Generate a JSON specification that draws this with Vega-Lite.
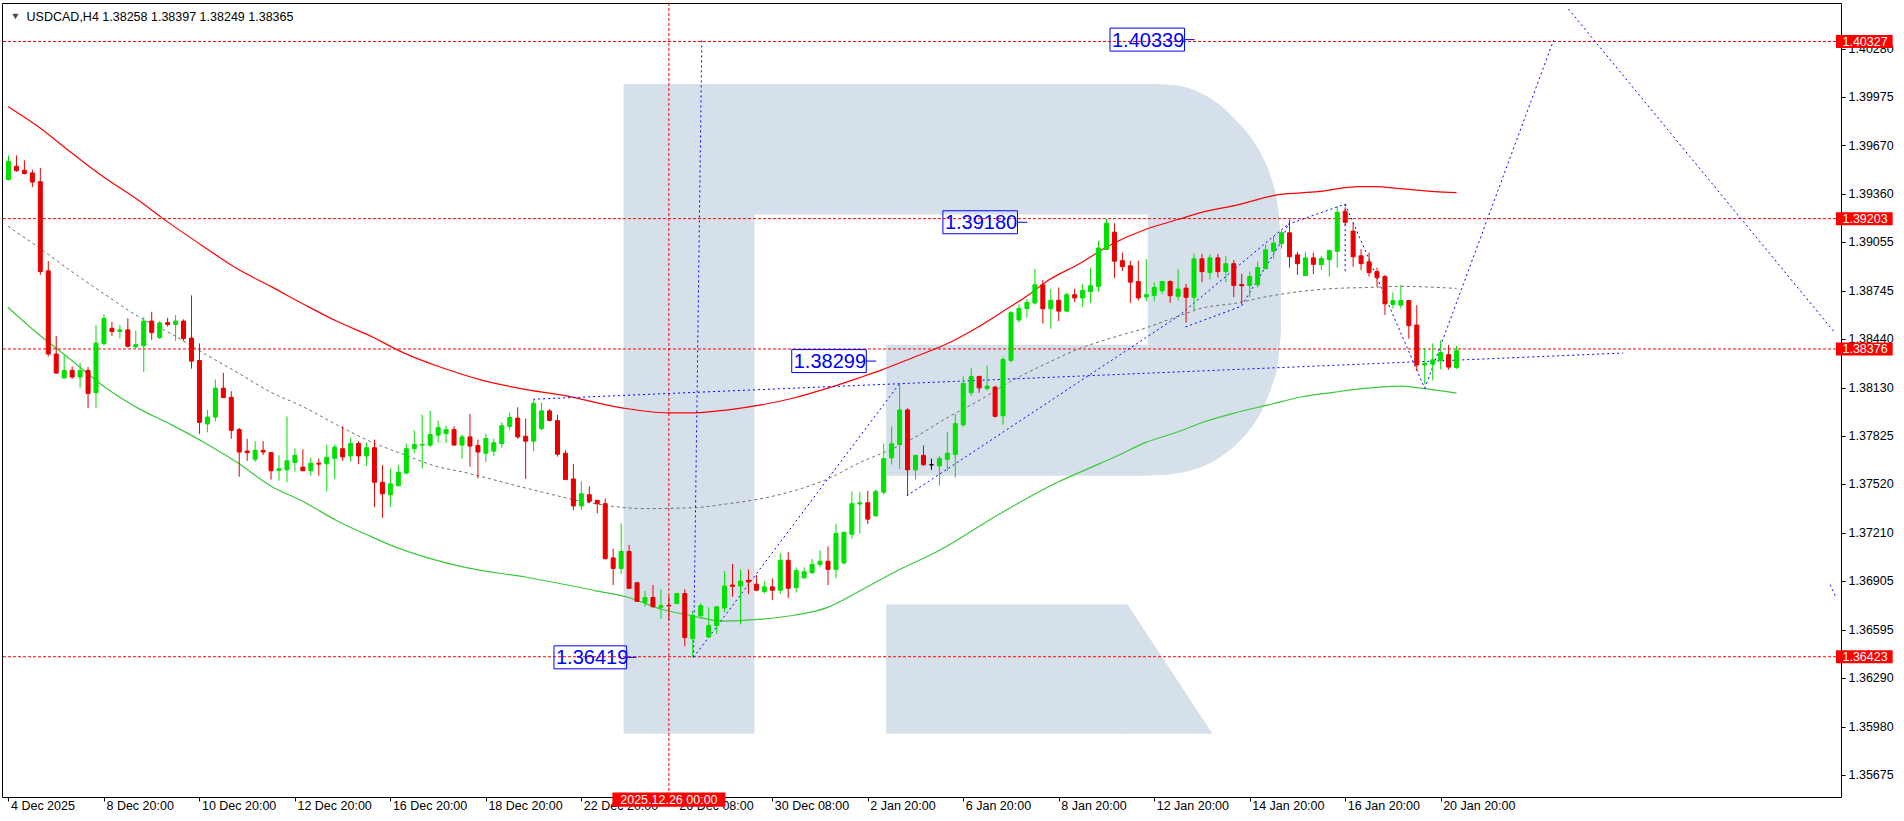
{
"$schema":"https://vega.github.io/schema/vega-lite/v6.json",
"width":1839,"height":794,
"autosize":{"type":"none"},
"padding":{"left":2,"top":3,"right":63,"bottom":24},
"background":"#FFFFFF",
"config":{"view":{"stroke":"#000000","strokeWidth":1},"font":"Liberation Sans"},
"datasets":{
"candles":[
{"i":0,"o":1.39451,"h":1.39604,"l":1.39445,"c":1.39566},
{"i":1,"o":1.39535,"h":1.39604,"l":1.39500,"c":1.39508},
{"i":2,"o":1.39510,"h":1.39573,"l":1.39483,"c":1.39489},
{"i":3,"o":1.39493,"h":1.39514,"l":1.39403,"c":1.39435},
{"i":4,"o":1.39437,"h":1.39525,"l":1.38846,"c":1.38867},
{"i":5,"o":1.38871,"h":1.38933,"l":1.38328,"c":1.38344},
{"i":6,"o":1.38344,"h":1.38459,"l":1.38219,"c":1.38223},
{"i":7,"o":1.38192,"h":1.38344,"l":1.38190,"c":1.38240},
{"i":8,"o":1.38240,"h":1.38265,"l":1.38186,"c":1.38198},
{"i":9,"o":1.38198,"h":1.38288,"l":1.38131,"c":1.38240},
{"i":10,"o":1.38240,"h":1.38261,"l":1.38000,"c":1.38094},
{"i":11,"o":1.38098,"h":1.38528,"l":1.38000,"c":1.38413},
{"i":12,"o":1.38411,"h":1.38595,"l":1.38397,"c":1.38570},
{"i":13,"o":1.38507,"h":1.38547,"l":1.38459,"c":1.38487},
{"i":14,"o":1.38487,"h":1.38528,"l":1.38443,"c":1.38497},
{"i":15,"o":1.38497,"h":1.38570,"l":1.38386,"c":1.38393},
{"i":16,"o":1.38390,"h":1.38491,"l":1.38376,"c":1.38403},
{"i":17,"o":1.38397,"h":1.38578,"l":1.38230,"c":1.38553},
{"i":18,"o":1.38553,"h":1.38612,"l":1.38434,"c":1.38480},
{"i":19,"o":1.38449,"h":1.38553,"l":1.38439,"c":1.38541},
{"i":20,"o":1.38543,"h":1.38574,"l":1.38518,"c":1.38532},
{"i":21,"o":1.38532,"h":1.38591,"l":1.38428,"c":1.38553},
{"i":22,"o":1.38553,"h":1.38564,"l":1.38428,"c":1.38443},
{"i":23,"o":1.38445,"h":1.38716,"l":1.38251,"c":1.38299},
{"i":24,"o":1.38303,"h":1.38411,"l":1.37837,"c":1.37910},
{"i":25,"o":1.37900,"h":1.37989,"l":1.37847,"c":1.37944},
{"i":26,"o":1.37944,"h":1.38182,"l":1.37916,"c":1.38127},
{"i":27,"o":1.38127,"h":1.38225,"l":1.38067,"c":1.38067},
{"i":28,"o":1.38069,"h":1.38108,"l":1.37806,"c":1.37860},
{"i":29,"o":1.37864,"h":1.37875,"l":1.37565,"c":1.37722},
{"i":30,"o":1.37728,"h":1.37806,"l":1.37666,"c":1.37718},
{"i":31,"o":1.37676,"h":1.37791,"l":1.37659,"c":1.37733},
{"i":32,"o":1.37733,"h":1.37791,"l":1.37703,"c":1.37722},
{"i":33,"o":1.37718,"h":1.37722,"l":1.37547,"c":1.37603},
{"i":34,"o":1.37605,"h":1.37701,"l":1.37540,"c":1.37616},
{"i":35,"o":1.37609,"h":1.37948,"l":1.37530,"c":1.37666},
{"i":36,"o":1.37655,"h":1.37745,"l":1.37597,"c":1.37701},
{"i":37,"o":1.37626,"h":1.37739,"l":1.37603,"c":1.37603},
{"i":38,"o":1.37603,"h":1.37687,"l":1.37572,"c":1.37651},
{"i":39,"o":1.37651,"h":1.37680,"l":1.37572,"c":1.37645},
{"i":40,"o":1.37647,"h":1.37770,"l":1.37471,"c":1.37689},
{"i":41,"o":1.37682,"h":1.37770,"l":1.37551,"c":1.37753},
{"i":42,"o":1.37743,"h":1.37885,"l":1.37666,"c":1.37691},
{"i":43,"o":1.37697,"h":1.37812,"l":1.37662,"c":1.37776},
{"i":44,"o":1.37776,"h":1.37791,"l":1.37645,"c":1.37697},
{"i":45,"o":1.37697,"h":1.37781,"l":1.37634,"c":1.37749},
{"i":46,"o":1.37749,"h":1.37801,"l":1.37373,"c":1.37530},
{"i":47,"o":1.37530,"h":1.37639,"l":1.37304,"c":1.37457},
{"i":48,"o":1.37451,"h":1.37618,"l":1.37373,"c":1.37520},
{"i":49,"o":1.37509,"h":1.37639,"l":1.37503,"c":1.37593},
{"i":50,"o":1.37588,"h":1.37776,"l":1.37582,"c":1.37743},
{"i":51,"o":1.37743,"h":1.37858,"l":1.37714,"c":1.37770},
{"i":52,"o":1.37766,"h":1.37958,"l":1.37618,"c":1.37770},
{"i":53,"o":1.37766,"h":1.37983,"l":1.37753,"c":1.37833},
{"i":54,"o":1.37829,"h":1.37920,"l":1.37781,"c":1.37877},
{"i":55,"o":1.37839,"h":1.37889,"l":1.37781,"c":1.37864},
{"i":56,"o":1.37864,"h":1.37885,"l":1.37766,"c":1.37766},
{"i":57,"o":1.37766,"h":1.37833,"l":1.37680,"c":1.37818},
{"i":58,"o":1.37818,"h":1.37964,"l":1.37630,"c":1.37760},
{"i":59,"o":1.37764,"h":1.37801,"l":1.37555,"c":1.37722},
{"i":60,"o":1.37714,"h":1.37839,"l":1.37659,"c":1.37808},
{"i":61,"o":1.37728,"h":1.37806,"l":1.37697,"c":1.37781},
{"i":62,"o":1.37776,"h":1.37910,"l":1.37749,"c":1.37889},
{"i":63,"o":1.37885,"h":1.37973,"l":1.37860,"c":1.37941},
{"i":64,"o":1.37937,"h":1.38006,"l":1.37806,"c":1.37818},
{"i":65,"o":1.37822,"h":1.37935,"l":1.37551,"c":1.37791},
{"i":66,"o":1.37791,"h":1.38056,"l":1.37728,"c":1.38031},
{"i":67,"o":1.37870,"h":1.38035,"l":1.37860,"c":1.37983},
{"i":68,"o":1.37983,"h":1.37994,"l":1.37916,"c":1.37923},
{"i":69,"o":1.37921,"h":1.37958,"l":1.37693,"c":1.37708},
{"i":70,"o":1.37714,"h":1.37733,"l":1.37547,"c":1.37547},
{"i":71,"o":1.37551,"h":1.37645,"l":1.37352,"c":1.37380},
{"i":72,"o":1.37380,"h":1.37536,"l":1.37352,"c":1.37457},
{"i":73,"o":1.37451,"h":1.37505,"l":1.37400,"c":1.37409},
{"i":74,"o":1.37415,"h":1.37419,"l":1.37332,"c":1.37394},
{"i":75,"o":1.37394,"h":1.37426,"l":1.37039,"c":1.37045},
{"i":76,"o":1.37050,"h":1.37108,"l":1.36878,"c":1.36983},
{"i":77,"o":1.36983,"h":1.37269,"l":1.36949,"c":1.37091},
{"i":78,"o":1.37091,"h":1.37133,"l":1.36857,"c":1.36857},
{"i":79,"o":1.36893,"h":1.36893,"l":1.36774,"c":1.36774},
{"i":80,"o":1.36768,"h":1.36841,"l":1.36740,"c":1.36799},
{"i":81,"o":1.36799,"h":1.36878,"l":1.36736,"c":1.36740},
{"i":82,"o":1.36736,"h":1.36851,"l":1.36663,"c":1.36747},
{"i":83,"o":1.36749,"h":1.36809,"l":1.36653,"c":1.36745},
{"i":84,"o":1.36761,"h":1.36824,"l":1.36757,"c":1.36824},
{"i":85,"o":1.36824,"h":1.36851,"l":1.36490,"c":1.36544},
{"i":86,"o":1.36538,"h":1.36715,"l":1.36419,"c":1.36684},
{"i":87,"o":1.36684,"h":1.36761,"l":1.36663,"c":1.36747},
{"i":88,"o":1.36548,"h":1.36736,"l":1.36544,"c":1.36621},
{"i":89,"o":1.36621,"h":1.36740,"l":1.36569,"c":1.36740},
{"i":90,"o":1.36732,"h":1.36966,"l":1.36705,"c":1.36872},
{"i":91,"o":1.36878,"h":1.37012,"l":1.36803,"c":1.36870},
{"i":92,"o":1.36872,"h":1.36977,"l":1.36628,"c":1.36903},
{"i":93,"o":1.36908,"h":1.36977,"l":1.36820,"c":1.36897},
{"i":94,"o":1.36883,"h":1.36941,"l":1.36841,"c":1.36845},
{"i":95,"o":1.36837,"h":1.36903,"l":1.36824,"c":1.36866},
{"i":96,"o":1.36866,"h":1.36920,"l":1.36782,"c":1.36845},
{"i":97,"o":1.36845,"h":1.37081,"l":1.36820,"c":1.37035},
{"i":98,"o":1.37035,"h":1.37087,"l":1.36795,"c":1.36857},
{"i":99,"o":1.36862,"h":1.36991,"l":1.36830,"c":1.36970},
{"i":100,"o":1.36924,"h":1.36991,"l":1.36918,"c":1.36962},
{"i":101,"o":1.36956,"h":1.37043,"l":1.36949,"c":1.37008},
{"i":102,"o":1.37008,"h":1.37098,"l":1.36991,"c":1.37029},
{"i":103,"o":1.37029,"h":1.37123,"l":1.36878,"c":1.36977},
{"i":104,"o":1.36977,"h":1.37267,"l":1.36920,"c":1.37206},
{"i":105,"o":1.37018,"h":1.37217,"l":1.37008,"c":1.37212},
{"i":106,"o":1.37200,"h":1.37472,"l":1.37171,"c":1.37394},
{"i":107,"o":1.37392,"h":1.37467,"l":1.37206,"c":1.37400},
{"i":108,"o":1.37400,"h":1.37476,"l":1.37265,"c":1.37296},
{"i":109,"o":1.37317,"h":1.37484,"l":1.37311,"c":1.37472},
{"i":110,"o":1.37467,"h":1.37776,"l":1.37451,"c":1.37680},
{"i":111,"o":1.37685,"h":1.37885,"l":1.37643,"c":1.37774},
{"i":112,"o":1.37770,"h":1.38157,"l":1.37614,"c":1.37989},
{"i":113,"o":1.37989,"h":1.38000,"l":1.37446,"c":1.37609},
{"i":114,"o":1.37609,"h":1.37701,"l":1.37547,"c":1.37701},
{"i":115,"o":1.37701,"h":1.37764,"l":1.37634,"c":1.37641},
{"i":116,"o":1.37641,"h":1.37680,"l":1.37609,"c":1.37641},
{"i":117,"o":1.37634,"h":1.37697,"l":1.37509,"c":1.37680},
{"i":118,"o":1.37676,"h":1.37850,"l":1.37600,"c":1.37714},
{"i":119,"o":1.37707,"h":1.37962,"l":1.37560,"c":1.37902},
{"i":120,"o":1.37895,"h":1.38202,"l":1.37881,"c":1.38157},
{"i":121,"o":1.38098,"h":1.38257,"l":1.38077,"c":1.38202},
{"i":122,"o":1.38202,"h":1.38202,"l":1.38098,"c":1.38129},
{"i":123,"o":1.38125,"h":1.38271,"l":1.38111,"c":1.38140},
{"i":124,"o":1.38134,"h":1.38142,"l":1.37941,"c":1.37948},
{"i":125,"o":1.37952,"h":1.38324,"l":1.37895,"c":1.38309},
{"i":126,"o":1.38303,"h":1.38616,"l":1.38292,"c":1.38606},
{"i":127,"o":1.38560,"h":1.38658,"l":1.38543,"c":1.38633},
{"i":128,"o":1.38633,"h":1.38695,"l":1.38574,"c":1.38672},
{"i":129,"o":1.38668,"h":1.38883,"l":1.38658,"c":1.38783},
{"i":130,"o":1.38783,"h":1.38814,"l":1.38537,"c":1.38631},
{"i":131,"o":1.38631,"h":1.38756,"l":1.38505,"c":1.38685},
{"i":132,"o":1.38685,"h":1.38766,"l":1.38553,"c":1.38616},
{"i":133,"o":1.38616,"h":1.38731,"l":1.38612,"c":1.38720},
{"i":134,"o":1.38720,"h":1.38758,"l":1.38674,"c":1.38700},
{"i":135,"o":1.38700,"h":1.38789,"l":1.38643,"c":1.38748},
{"i":136,"o":1.38741,"h":1.38892,"l":1.38668,"c":1.38777},
{"i":137,"o":1.38773,"h":1.39061,"l":1.38737,"c":1.39017},
{"i":138,"o":1.39007,"h":1.39201,"l":1.39007,"c":1.39174},
{"i":139,"o":1.39117,"h":1.39174,"l":1.38825,"c":1.38933},
{"i":140,"o":1.38936,"h":1.38988,"l":1.38871,"c":1.38898},
{"i":141,"o":1.38904,"h":1.38936,"l":1.38668,"c":1.38800},
{"i":142,"o":1.38804,"h":1.38936,"l":1.38683,"c":1.38700},
{"i":143,"o":1.38706,"h":1.38946,"l":1.38679,"c":1.38720},
{"i":144,"o":1.38716,"h":1.38798,"l":1.38679,"c":1.38766},
{"i":145,"o":1.38745,"h":1.38804,"l":1.38725,"c":1.38804},
{"i":146,"o":1.38804,"h":1.38812,"l":1.38668,"c":1.38714},
{"i":147,"o":1.38710,"h":1.38881,"l":1.38683,"c":1.38756},
{"i":148,"o":1.38762,"h":1.38789,"l":1.38543,"c":1.38704},
{"i":149,"o":1.38704,"h":1.38982,"l":1.38622,"c":1.38948},
{"i":150,"o":1.38948,"h":1.38979,"l":1.38800,"c":1.38867},
{"i":151,"o":1.38860,"h":1.38979,"l":1.38817,"c":1.38954},
{"i":152,"o":1.38954,"h":1.38979,"l":1.38829,"c":1.38867},
{"i":153,"o":1.38867,"h":1.38967,"l":1.38800,"c":1.38917},
{"i":154,"o":1.38917,"h":1.38940,"l":1.38704,"c":1.38779},
{"i":155,"o":1.38785,"h":1.38852,"l":1.38662,"c":1.38777},
{"i":156,"o":1.38779,"h":1.38867,"l":1.38704,"c":1.38835},
{"i":157,"o":1.38783,"h":1.38929,"l":1.38766,"c":1.38892},
{"i":158,"o":1.38885,"h":1.39038,"l":1.38883,"c":1.39005},
{"i":159,"o":1.38996,"h":1.39092,"l":1.38950,"c":1.39048},
{"i":160,"o":1.39044,"h":1.39138,"l":1.39013,"c":1.39113},
{"i":161,"o":1.39113,"h":1.39197,"l":1.38892,"c":1.38961},
{"i":162,"o":1.38973,"h":1.38992,"l":1.38846,"c":1.38917},
{"i":163,"o":1.38842,"h":1.38992,"l":1.38842,"c":1.38954},
{"i":164,"o":1.38954,"h":1.38988,"l":1.38850,"c":1.38913},
{"i":165,"o":1.38911,"h":1.38967,"l":1.38877,"c":1.38950},
{"i":166,"o":1.38942,"h":1.39007,"l":1.38835,"c":1.39000},
{"i":167,"o":1.38996,"h":1.39284,"l":1.38892,"c":1.39243},
{"i":168,"o":1.39249,"h":1.39274,"l":1.39159,"c":1.39180},
{"i":169,"o":1.39124,"h":1.39180,"l":1.38898,"c":1.38961},
{"i":170,"o":1.38967,"h":1.39009,"l":1.38877,"c":1.38917},
{"i":171,"o":1.38929,"h":1.38988,"l":1.38835,"c":1.38860},
{"i":172,"o":1.38867,"h":1.38892,"l":1.38771,"c":1.38829},
{"i":173,"o":1.38835,"h":1.38846,"l":1.38591,"c":1.38662},
{"i":174,"o":1.38658,"h":1.38735,"l":1.38633,"c":1.38683},
{"i":175,"o":1.38654,"h":1.38783,"l":1.38633,"c":1.38683},
{"i":176,"o":1.38683,"h":1.38683,"l":1.38441,"c":1.38524},
{"i":177,"o":1.38528,"h":1.38654,"l":1.38236,"c":1.38274},
{"i":178,"o":1.38274,"h":1.38382,"l":1.38152,"c":1.38284},
{"i":179,"o":1.38280,"h":1.38411,"l":1.38177,"c":1.38307},
{"i":180,"o":1.38303,"h":1.38432,"l":1.38246,"c":1.38353},
{"i":181,"o":1.38340,"h":1.38401,"l":1.38244,"c":1.38261},
{"i":182,"o":1.38258,"h":1.38397,"l":1.38249,"c":1.38365}
],
"upper":[
{"i":-0.08,"p":1.39915},{"i":3.71,"p":1.39788},{"i":7.96,"p":1.39619},{"i":12.09,"p":1.39462},{"i":16.21,"p":1.39324},{"i":19.21,"p":1.39211},{"i":24.59,"p":1.39023},{"i":28.71,"p":1.38886},{"i":32.96,"p":1.38773},{"i":37.09,"p":1.38660},{"i":41.21,"p":1.38553},{"i":45.46,"p":1.38459},{"i":49.59,"p":1.38353},{"i":53.71,"p":1.38271},{"i":59.59,"p":1.38177},{"i":65.46,"p":1.38115},{"i":69.59,"p":1.38083},{"i":77.09,"p":1.38002},{"i":82.96,"p":1.37971},{"i":86.21,"p":1.37971},{"i":90.46,"p":1.37990},{"i":94.59,"p":1.38021},{"i":98.71,"p":1.38065},{"i":102.96,"p":1.38127},{"i":107.09,"p":1.38196},{"i":109.59,"p":1.38240},{"i":113.71,"p":1.38322},{"i":117.96,"p":1.38409},{"i":122.09,"p":1.38522},{"i":125.46,"p":1.38629},{"i":128.34,"p":1.38723},{"i":130.46,"p":1.38804},{"i":134.59,"p":1.38917},{"i":138.71,"p":1.39042},{"i":142.96,"p":1.39136},{"i":147.09,"p":1.39199},{"i":149.96,"p":1.39243},{"i":154.21,"p":1.39287},{"i":159.59,"p":1.39355},{"i":164.59,"p":1.39374},{"i":169.59,"p":1.39406},{"i":171.71,"p":1.39406},{"i":174.96,"p":1.39393},{"i":179.21,"p":1.39374},{"i":182,"p":1.39368}
],
"middle":[
{"i":-0.08,"p":1.39155},{"i":3.71,"p":1.39023},{"i":7.96,"p":1.38867},{"i":12.09,"p":1.38723},{"i":16.21,"p":1.38585},{"i":20.46,"p":1.38472},{"i":24.59,"p":1.38347},{"i":28.71,"p":1.38228},{"i":32.96,"p":1.38102},{"i":37.09,"p":1.38008},{"i":41.21,"p":1.37896},{"i":45.46,"p":1.37789},{"i":49.59,"p":1.37708},{"i":53.71,"p":1.37632},{"i":57.09,"p":1.37595},{"i":65.46,"p":1.37488},{"i":73.71,"p":1.37394},{"i":79.96,"p":1.37363},{"i":86.21,"p":1.37369},{"i":90.46,"p":1.37394},{"i":94.59,"p":1.37426},{"i":98.71,"p":1.37476},{"i":102.96,"p":1.37551},{"i":107.09,"p":1.37657},{"i":111.21,"p":1.37745},{"i":113.71,"p":1.37810},{"i":117.96,"p":1.37939},{"i":122.09,"p":1.38052},{"i":126.21,"p":1.38177},{"i":130.46,"p":1.38284},{"i":134.59,"p":1.38378},{"i":138.71,"p":1.38447},{"i":142.96,"p":1.38510},{"i":147.09,"p":1.38585},{"i":149.96,"p":1.38635},{"i":154.21,"p":1.38666},{"i":158.34,"p":1.38710},{"i":162.46,"p":1.38741},{"i":166.71,"p":1.38760},{"i":170.84,"p":1.38766},{"i":174.96,"p":1.38773},{"i":182,"p":1.38760}
],
"lower":[
{"i":-0.08,"p":1.38641},{"i":3.71,"p":1.38472},{"i":7.96,"p":1.38303},{"i":12.09,"p":1.38134},{"i":16.21,"p":1.38002},{"i":20.46,"p":1.37896},{"i":24.59,"p":1.37783},{"i":28.71,"p":1.37657},{"i":32.96,"p":1.37507},{"i":37.09,"p":1.37407},{"i":41.21,"p":1.37288},{"i":45.46,"p":1.37188},{"i":48.34,"p":1.37125},{"i":57.09,"p":1.36993},{"i":65.46,"p":1.36924},{"i":73.71,"p":1.36843},{"i":77.96,"p":1.36799},{"i":82.09,"p":1.36724},{"i":86.21,"p":1.36680},{"i":89.59,"p":1.36649},{"i":94.59,"p":1.36661},{"i":98.71,"p":1.36686},{"i":102.96,"p":1.36736},{"i":107.09,"p":1.36843},{"i":111.21,"p":1.36956},{"i":117.09,"p":1.37100},{"i":124.59,"p":1.37330},{"i":131.84,"p":1.37530},{"i":135.84,"p":1.37620},{"i":138.71,"p":1.37682},{"i":142.96,"p":1.37783},{"i":147.09,"p":1.37852},{"i":149.96,"p":1.37908},{"i":154.21,"p":1.37971},{"i":158.34,"p":1.38021},{"i":162.46,"p":1.38071},{"i":166.71,"p":1.38102},{"i":170.84,"p":1.38127},{"i":174.96,"p":1.38140},{"i":177.46,"p":1.38127},{"i":182,"p":1.38096}
],
"forecast":[
{"s":1,"k":0,"i":86.10,"p":1.36419},{"s":1,"k":1,"i":87.14,"p":1.40335},
{"s":2,"k":0,"i":86.10,"p":1.36419},{"s":2,"k":1,"i":112.0,"p":1.38157},
{"s":3,"k":0,"i":65.94,"p":1.38057},{"s":3,"k":1,"i":202.94,"p":1.38350},
{"s":4,"k":0,"i":112.9,"p":1.37444},{"s":4,"k":1,"i":147.06,"p":1.38585},{"s":4,"k":2,"i":160.81,"p":1.39167},
{"s":5,"k":0,"i":147.94,"p":1.38516},{"s":5,"k":1,"i":154.94,"p":1.38647},{"s":5,"k":2,"i":159.94,"p":1.39055},{"s":5,"k":3,"i":160.81,"p":1.39167},
{"s":6,"k":0,"i":160.81,"p":1.39167},{"s":6,"k":1,"i":168.0,"p":1.39295},
{"s":7,"k":0,"i":168.0,"p":1.39295},{"s":7,"k":1,"i":178.0,"p":1.38125},
{"s":8,"k":0,"i":168.0,"p":1.39295},{"s":8,"k":1,"i":168.0,"p":1.38867},
{"s":9,"k":0,"i":178.0,"p":1.38125},{"s":9,"k":1,"i":194.19,"p":1.40335},
{"s":10,"k":0,"i":196.06,"p":1.40533},{"s":10,"k":1,"i":229.56,"p":1.38478},
{"s":11,"k":0,"i":228.94,"p":1.36880},{"s":11,"k":1,"i":229.69,"p":1.36799}
],
"logoRects":[
{"a":77.31,"b":93.75,"p1":1.35934,"p2":1.40057},
{"a":93.65,"b":143.25,"p1":1.39230,"p2":1.40057},
{"a":110.31,"b":143.25,"p1":1.37572,"p2":1.38403},
{"a":110.31,"b":140.69,"p1":1.35934,"p2":1.36755}
],
"logoAreas":[
{"g":"bowl","i":143.19,"t":1.40057,"b":1.37572},{"g":"bowl","i":146.44,"t":1.40051,"b":1.37582},{"g":"bowl","i":149.56,"t":1.40007,"b":1.37620},{"g":"bowl","i":152.06,"t":1.39932,"b":1.37683},{"g":"bowl","i":154.31,"t":1.39825,"b":1.37770},{"g":"bowl","i":156.19,"t":1.39713,"b":1.37877},{"g":"bowl","i":157.69,"t":1.39587,"b":1.38002},{"g":"bowl","i":158.81,"t":1.39443,"b":1.38147},{"g":"bowl","i":159.56,"t":1.39274,"b":1.38291},{"g":"bowl","i":159.94,"t":1.39055,"b":1.38491},
{"g":"leg","i":140.65,"t":1.36755,"b":1.35934},{"g":"leg","i":151.31,"t":1.35934,"b":1.35934}
],
"hlines":[{"p":1.40327},{"p":1.39203},{"p":1.38376},{"p":1.36423}],
"boxes":[
{"t":"1.36419","p":1.36419,"i0":68.56,"i1":77.69,"i2":78.94},
{"t":"1.38299","p":1.38299,"i0":98.44,"i1":107.81,"i2":109.06},
{"t":"1.39180","p":1.39180,"i0":117.44,"i1":126.81,"i2":128.06},
{"t":"1.40339","p":1.40339,"i0":138.44,"i1":147.81,"i2":149.06}
]
},
"layer":[
{"data":{"name":"candles"},"mark":{"type":"rule","strokeWidth":1,"opacity":0},
 "encoding":{
 "x":{"field":"i","type":"quantitative","scale":{"domain":[-0.1875,229.6875],"nice":false,"zero":false},
  "axis":{"orient":"bottom","values":[0,12,24,36,48,60,72,84,96,108,120,132,144,156,168,180],
   "labelExpr":"['4 Dec 2025','8 Dec 20:00','10 Dec 20:00','12 Dec 20:00','16 Dec 20:00','18 Dec 20:00','22 Dec 20:00','26 Dec 08:00','30 Dec 08:00','2 Jan 20:00','6 Jan 20:00','8 Jan 20:00','12 Jan 20:00','14 Jan 20:00','16 Jan 20:00','20 Jan 20:00'][round(datum.value/12)]",
   "title":null,"grid":false,"domain":false,"ticks":true,"tickSize":4,"tickColor":"#000000","tickWidth":1,
   "labelAlign":"left","labelBaseline":"middle","labelPadding":4,"labelOffset":2,"labelFont":"Liberation Sans","labelFontSize":12.5,"labelColor":"#000000","labelOverlap":false,"labelFlush":false,"labelBound":false}},
 "y":{"field":"l","type":"quantitative","scale":{"domain":[1.355646,1.405396],"nice":false,"zero":false},
  "axis":{"orient":"right","values":[1.35675,1.3598,1.3629,1.36595,1.36905,1.3721,1.3752,1.37825,1.3813,1.3844,1.38745,1.39055,1.3936,1.3967,1.39975,1.4028],
   "labelExpr":"format(datum.value,'.5f')","title":null,"grid":false,"domain":false,"ticks":true,"tickSize":4,"tickColor":"#000000","tickWidth":1,
   "labelAlign":"left","labelBaseline":"middle","labelPadding":3,"labelFont":"Liberation Sans","labelFontSize":12.5,"labelColor":"#000000","labelOverlap":false,"labelFlush":false,"labelBound":false}},
 "y2":{"field":"h"}}},
{"data":{"name":"logoRects"},"mark":{"type":"rect","color":"#D5E0EB"},
 "encoding":{"x":{"field":"a","type":"quantitative","scale":{"domain":[-0.1875,229.6875],"nice":false,"zero":false}},"x2":{"field":"b"},
 "y":{"field":"p1","type":"quantitative","scale":{"domain":[1.355646,1.405396],"nice":false,"zero":false}},"y2":{"field":"p2"}}},
{"data":{"name":"logoAreas"},"mark":{"type":"area","color":"#D5E0EB","orient":"vertical","interpolate":"monotone"},
 "encoding":{"x":{"field":"i","type":"quantitative","scale":{"domain":[-0.1875,229.6875],"nice":false,"zero":false}},
 "y":{"field":"t","type":"quantitative","scale":{"domain":[1.355646,1.405396],"nice":false,"zero":false}},"y2":{"field":"b"},"detail":{"field":"g"}}},
{"data":{"name":"hlines"},"mark":{"type":"rule","color":"#FF0000","strokeWidth":1,"strokeDash":[3,2]},
 "encoding":{"y":{"field":"p","type":"quantitative","scale":{"domain":[1.355646,1.405396],"nice":false,"zero":false}}}},
{"data":{"values":[{"i":83}]},"mark":{"type":"rule","color":"#FF0000","strokeWidth":1,"strokeDash":[3,2]},
 "encoding":{"x":{"field":"i","type":"quantitative","scale":{"domain":[-0.1875,229.6875],"nice":false,"zero":false}}}},
{"data":{"name":"upper"},"mark":{"type":"line","color":"#FF0000","strokeWidth":1.2,"interpolate":"monotone"},
 "encoding":{"x":{"field":"i","type":"quantitative","scale":{"domain":[-0.1875,229.6875],"nice":false,"zero":false}},
 "y":{"field":"p","type":"quantitative","scale":{"domain":[1.355646,1.405396],"nice":false,"zero":false}}}},
{"data":{"name":"middle"},"mark":{"type":"line","color":"#707070","strokeWidth":1,"strokeDash":[3,3],"interpolate":"monotone"},
 "encoding":{"x":{"field":"i","type":"quantitative","scale":{"domain":[-0.1875,229.6875],"nice":false,"zero":false}},
 "y":{"field":"p","type":"quantitative","scale":{"domain":[1.355646,1.405396],"nice":false,"zero":false}}}},
{"data":{"name":"lower"},"mark":{"type":"line","color":"#3CC83C","strokeWidth":1.2,"interpolate":"monotone"},
 "encoding":{"x":{"field":"i","type":"quantitative","scale":{"domain":[-0.1875,229.6875],"nice":false,"zero":false}},
 "y":{"field":"p","type":"quantitative","scale":{"domain":[1.355646,1.405396],"nice":false,"zero":false}}}},
{"data":{"name":"forecast"},"mark":{"type":"line","color":"#0000FF","strokeWidth":1,"strokeDash":[2,3]},
 "encoding":{"x":{"field":"i","type":"quantitative","scale":{"domain":[-0.1875,229.6875],"nice":false,"zero":false}},
 "y":{"field":"p","type":"quantitative","scale":{"domain":[1.355646,1.405396],"nice":false,"zero":false}},
 "detail":{"field":"s"},"order":{"field":"k"}}},
{"data":{"name":"candles"},"mark":{"type":"rule","strokeWidth":1},
 "encoding":{
 "x":{"field":"i","type":"quantitative","scale":{"domain":[-0.1875,229.6875],"nice":false,"zero":false}},
 "y":{"field":"l","type":"quantitative","scale":{"domain":[1.355646,1.405396],"nice":false,"zero":false}},
 "y2":{"field":"h"},
 "color":{"condition":[{"test":"datum.c > datum.o","value":"#00E000"},{"test":"datum.c < datum.o","value":"#E80000"}],"value":"#000000"}}},
{"data":{"name":"candles"},"mark":{"type":"bar","size":4,"strokeWidth":1,"orient":"vertical"},
 "encoding":{"x":{"field":"i","type":"quantitative","scale":{"domain":[-0.1875,229.6875],"nice":false,"zero":false}},
 "y":{"field":"o","type":"quantitative","scale":{"domain":[1.355646,1.405396],"nice":false,"zero":false}},"y2":{"field":"c"},
 "color":{"condition":[{"test":"datum.c > datum.o","value":"#00E000"},{"test":"datum.c < datum.o","value":"#E80000"}],"value":"#000000"},
 "stroke":{"condition":[{"test":"datum.c > datum.o","value":"#00E000"},{"test":"datum.c < datum.o","value":"#E80000"}],"value":"#000000"}}},
{"data":{"name":"boxes"},"mark":{"type":"bar","orient":"horizontal","size":23,"filled":false,"stroke":"#0000FF","strokeWidth":1},
 "encoding":{"x":{"field":"i0","type":"quantitative","scale":{"domain":[-0.1875,229.6875],"nice":false,"zero":false}},"x2":{"field":"i1"},
 "y":{"field":"p","type":"quantitative","scale":{"domain":[1.355646,1.405396],"nice":false,"zero":false}}}},
{"data":{"name":"boxes"},"mark":{"type":"rule","color":"#0000FF","strokeWidth":1},
 "encoding":{"x":{"field":"i1","type":"quantitative","scale":{"domain":[-0.1875,229.6875],"nice":false,"zero":false}},"x2":{"field":"i2"},
 "y":{"field":"p","type":"quantitative","scale":{"domain":[1.355646,1.405396],"nice":false,"zero":false}}}},
{"data":{"name":"boxes"},"mark":{"type":"text","color":"#0000FF","font":"Liberation Sans","fontSize":20,"align":"left","baseline":"middle","dx":2,"dy":1},
 "encoding":{"x":{"field":"i0","type":"quantitative","scale":{"domain":[-0.1875,229.6875],"nice":false,"zero":false}},
 "y":{"field":"p","type":"quantitative","scale":{"domain":[1.355646,1.405396],"nice":false,"zero":false}},"text":{"field":"t"}}},
{"data":{"name":"hlines"},"mark":{"type":"bar","orient":"horizontal","size":13,"color":"#FF0000"},
 "encoding":{"x":{"datum":229.6875,"type":"quantitative","scale":{"domain":[-0.1875,229.6875],"nice":false,"zero":false}},"x2":{"datum":236.81},
 "y":{"field":"p","type":"quantitative","scale":{"domain":[1.355646,1.405396],"nice":false,"zero":false}}}},
{"data":{"name":"hlines"},"mark":{"type":"text","color":"#FFFFFF","font":"Liberation Sans","fontSize":12.5,"align":"left","baseline":"middle"},
 "encoding":{"x":{"datum":230.5,"type":"quantitative","scale":{"domain":[-0.1875,229.6875],"nice":false,"zero":false}},
 "y":{"field":"p","type":"quantitative","scale":{"domain":[1.355646,1.405396],"nice":false,"zero":false}},
 "text":{"field":"p","type":"quantitative","format":".5f"}}},
{"data":{"values":[{"t":"2025.12.26 00:00"}]},"mark":{"type":"bar","orient":"vertical","size":113,"color":"#FF0000"},
 "encoding":{"x":{"datum":83.0,"type":"quantitative","scale":{"domain":[-0.1875,229.6875],"nice":false,"zero":false}},
 "y":{"datum":1.355616,"type":"quantitative","scale":{"domain":[1.355646,1.405396],"nice":false,"zero":false}},"y2":{"datum":1.354708}}},
{"data":{"values":[{"t":"2025.12.26 00:00"}]},"mark":{"type":"text","color":"#FFFFFF","font":"Liberation Sans","fontSize":12.5,"align":"center","baseline":"middle"},
 "encoding":{"x":{"datum":83.0,"type":"quantitative","scale":{"domain":[-0.1875,229.6875],"nice":false,"zero":false}},
 "y":{"datum":1.355145,"type":"quantitative","scale":{"domain":[1.355646,1.405396],"nice":false,"zero":false}},"text":{"field":"t"}}},
{"data":{"values":[{"t":"USDCAD,H4  1.38258 1.38397 1.38249 1.38365"}]},"mark":{"type":"text","color":"#000000","font":"Liberation Sans","fontSize":12.5,"align":"left","baseline":"middle"},
 "encoding":{"x":{"datum":2.275,"type":"quantitative","scale":{"domain":[-0.1875,229.6875],"nice":false,"zero":false}},
 "y":{"datum":1.40480,"type":"quantitative","scale":{"domain":[1.355646,1.405396],"nice":false,"zero":false}},"text":{"field":"t"}}},
{"data":{"values":[{"t":"v"}]},"mark":{"type":"point","shape":"triangle-down","filled":true,"size":40,"color":"#000000"},
 "encoding":{"x":{"datum":0.875,"type":"quantitative","scale":{"domain":[-0.1875,229.6875],"nice":false,"zero":false}},
 "y":{"datum":1.40485,"type":"quantitative","scale":{"domain":[1.355646,1.405396],"nice":false,"zero":false}}}}
]
}
